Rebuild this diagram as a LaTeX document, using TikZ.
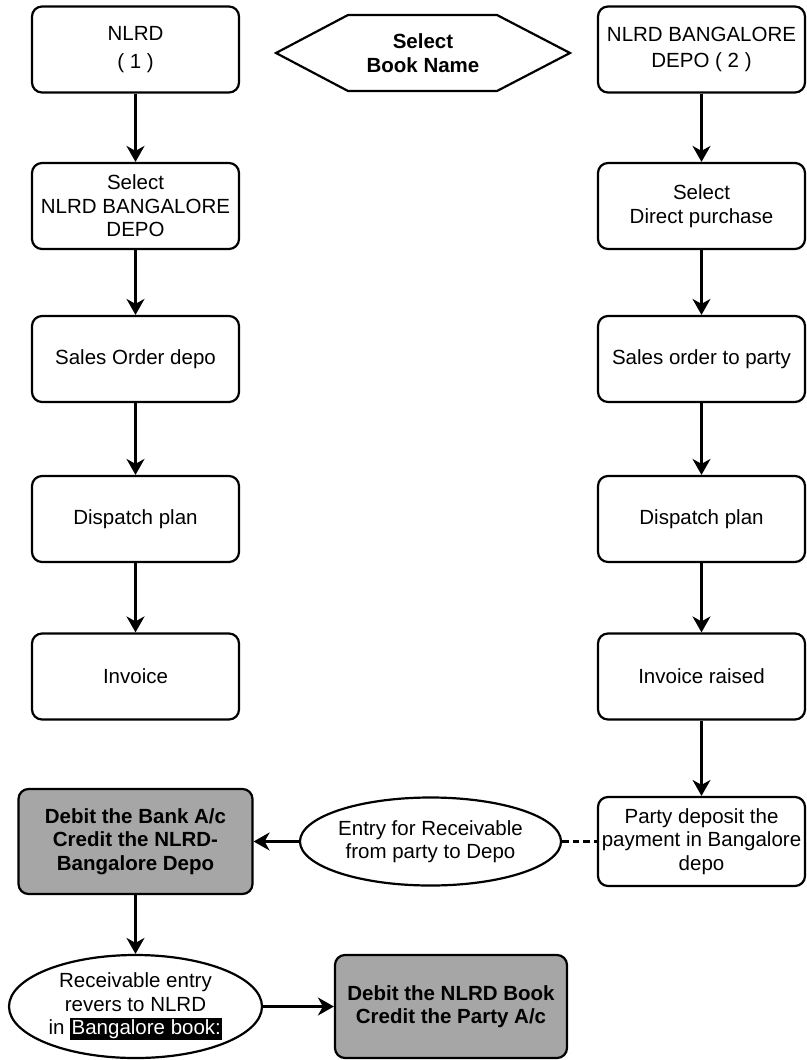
\documentclass[tikz,border=0pt]{standalone}
\usepackage{fontspec}
\setmainfont{Liberation Sans}
\usetikzlibrary{shapes.geometric,arrows.meta}
\begin{document}
\begin{tikzpicture}[x=1pt, y=-1pt, line width=2.2pt,
                        font=\fontsize{20.5}{23.5}\selectfont,
                        box/.style = {draw, rounded corners=10pt, align=center, minimum width=207pt, minimum height=86pt, inner sep=2pt},
                        grey/.style = {box, fill=black!35, font=\fontsize{20.5}{23.5}\selectfont\bfseries},
                        oval/.style = {draw, ellipse, align=center, inner sep=0pt},
                        flow/.style = {-{Stealth[length=16pt, width=18pt, inset=5pt]}},
                        dashline/.style = {dash pattern=on 6.5pt off 4pt}]
      \useasboundingbox (0,0) rectangle (806,1060);

      \node [box] (nlrd) at (135.5, 49.5) {NLRD\\[4pt]( 1 )};
      \node [box] (selbang) at (135.5, 206) {Select\\NLRD BANGALORE\\DEPO};
      \node [box] (salesdepo) at (135.5, 359) {Sales Order depo};
      \node [box] (displeft) at (135.5, 519) {Dispatch plan};
      \node [box] (invleft) at (135.5, 676.5) {Invoice};

      \node [font=\fontsize{20.5}{23.5}\selectfont\bfseries, align=center] (book) at (423, 53) {Select\\Book Name};
      \draw (276, 53) -- (348, 15) -- (497, 15) -- (570, 53) -- (497, 91) -- (348, 91) -- cycle;

      \node [box] (bang) at (701.5, 49.5) {NLRD BANGALORE\\[3pt]DEPO ( 2 )};
      \node [box] (seldirect) at (701.5, 206) {Select\\Direct purchase};
      \node [box] (salesparty) at (701.5, 359) {Sales order to party};
      \node [box] (dispright) at (701.5, 519) {Dispatch plan};
      \node [box] (invright) at (701.5, 676.5) {Invoice raised};
      \node [box, minimum height=89pt] (party) at (701.5, 841.5) {Party deposit the\\payment in Bangalore\\depo};

      \node [oval, minimum width=225pt, minimum height=88pt] (entry) at (430.5, 841.5) {Entry for Receivable\\from party to Depo};
      \node [grey, minimum width=234pt, minimum height=105pt] (debitbank) at (135.5, 841.5) {Debit the Bank A/c\\Credit the NLRD-\\Bangalore Depo};
      \node [oval, minimum width=253pt, minimum height=103pt] (receiv) at (135.5, 1006.5)
            {Receivable entry\\revers to NLRD\\in \setlength{\fboxsep}{1.5pt}\colorbox{black}{\textcolor{white}{Bangalore book:}}};
      \node [grey, minimum width=232pt, minimum height=103pt] (debitnlrd) at (451, 1006.5) {Debit the NLRD Book\\Credit the Party A/c};

      \foreach \a/\b in {nlrd/selbang, selbang/salesdepo, salesdepo/displeft, displeft/invleft,
                         bang/seldirect, seldirect/salesparty, salesparty/dispright, dispright/invright, invright/party}
        \draw [flow] (\a) -- (\b);

      \draw [flow] (entry) -- (debitbank);
      \draw [dashline] (entry) -- (party);
      \draw [flow] (debitbank) -- (receiv);
      \draw [flow] (receiv) -- (debitnlrd);

\end{tikzpicture}
\end{document}
